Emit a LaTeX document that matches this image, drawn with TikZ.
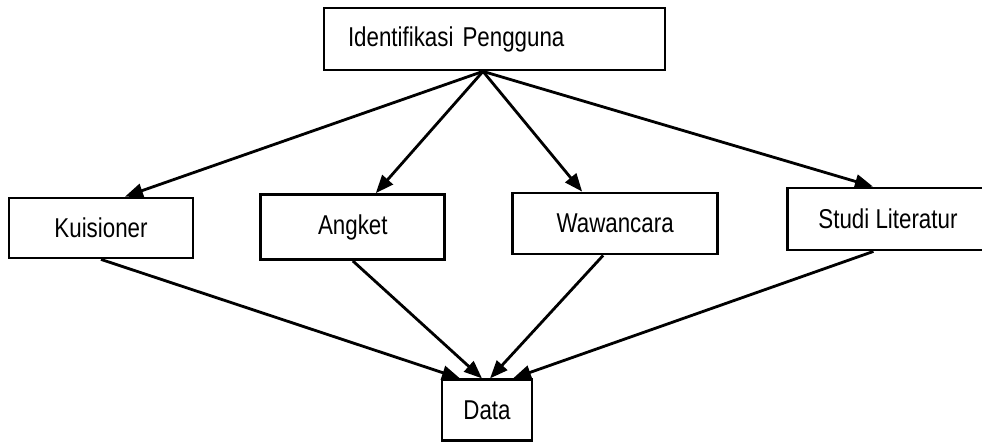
\documentclass[tikz,border=0pt]{standalone}
\usepackage{fontspec}
\setmainfont{Liberation Sans}[FakeStretch=0.82]
\usepackage{tikz}
\usetikzlibrary{arrows.meta,positioning}

\begin{document}
\begin{tikzpicture}[
  node distance=1.3cm,
  box/.style={draw=black, line width=1.6pt, fill=white, align=center, minimum width=3.68cm, minimum height=1.2cm, font=\fontsize{15.5}{18}\selectfont},
  line/.style={-{Triangle[length=3.6mm,width=2.8mm]}, line width=1.6pt, draw=black}
]
\useasboundingbox (0,0) rectangle (19.64,8.82);

\node[box, minimum width=6.82cm, minimum height=1.24cm, text width=5.86cm, align=left, inner xsep=0.48cm] (ident) at (9.89,8.04) {Identifikasi Pengguna};

\node[box] (kuis) at (2.02,4.26) {Kuisioner};
\node[box, right=of kuis, minimum height=1.3cm, yshift=0.02cm] (angket) {Angket};
\node[box, right=of angket, minimum width=4.1cm, minimum height=1.22cm, yshift=0.07cm] (wawan) {Wawancara};
\node[box, right=1.34cm of wawan, minimum width=4.02cm, minimum height=1.24cm, yshift=0.09cm] (studi) {Studi Literatur};

\node[box, below=6.14cm of ident, xshift=-0.15cm, minimum width=1.8cm, minimum height=1.22cm] (data) {Data};

\coordinate (apex) at ([xshift=-0.23cm]ident.south);

\draw[line] (apex) -- ([xshift=0.48cm]kuis.north);
\draw[line] (apex) -- ([xshift=0.46cm]angket.north);
\draw[line] (apex) -- ([xshift=-0.66cm]wawan.north);
\draw[line] (apex) -- ([xshift=-0.30cm]studi.north);

\draw[line] (kuis.south) -- ([xshift=-0.54cm]data.north);
\draw[line] (angket.south) -- ([xshift=-0.10cm]data.north);
\draw[line] ([xshift=-0.24cm]wawan.south) -- ([xshift=0.06cm]data.north);
\draw[line] ([xshift=-0.29cm]studi.south) -- ([xshift=0.52cm]data.north);

\end{tikzpicture}
\end{document}
